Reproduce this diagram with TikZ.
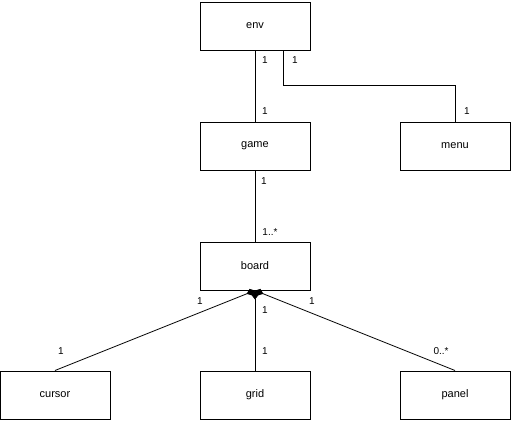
\documentclass[tikz,border=0pt]{standalone}
\usepackage{fontspec}
\setmainfont{Liberation Sans}
\usetikzlibrary{arrows.meta}
\definecolor{cline}{HTML}{000000}

\begin{document}
\begin{tikzpicture}[x=1pt,y=-1pt,
    cls/.style={draw,line width=1pt,minimum width=110pt,minimum height=48pt,
      inner sep=0pt,font=\fontsize{11}{13}\selectfont},
    mult/.style={inner sep=0pt,font=\fontsize{10}{12}\selectfont},
    comp/.style={line width=0.8pt,{Diamond[length=9pt,width=7pt]}-}]
  \useasboundingbox (0,0) rectangle (511,421);
  % classes
  \node[cls] (env) at (255,26) {env};
  \node[cls] (game) at (255,146) {game};
  \node[cls] (menu) at (455,146) {menu};
  \node[cls] (board) at (255,266) {board};
  \node[cls] (cursor) at (55,395) {cursor};
  \node[cls] (grid) at (255,395) {grid};
  \node[cls] (panel) at (455,395) {panel};
  % associations
  \draw[line width=0.8pt] (env) -- (game);
  \draw[line width=0.8pt] ([xshift=28pt]env.south) -- ++(0,35) -| (menu.north);
  \draw[line width=0.8pt] (game) -- (board);
  % composition
  \draw[comp] (board.south) -- (cursor.north);
  \draw[comp] (board.south) -- (grid.north);
  \draw[comp] (board.south) -- (panel.north);
  % multiplicities
  \node[mult] (m1) at (265,60) {1};
  \node[mult] (m2) at (295,60) {1};
  \node[mult] (m3) at (265,111) {1};
  \node[mult] (m4) at (467,111) {1};
  \node[mult] (m5) at (264,181) {1};
  \node[mult] (m6) at (270,232) {1..*};
  \node[mult] (m7) at (200,301) {1};
  \node[mult] (m8) at (265,310) {1};
  \node[mult] (m9) at (312,301) {1};
  \node[mult] (m10) at (61,351) {1};
  \node[mult] (m11) at (265,351) {1};
  \node[mult] (m12) at (441,351) {0..*};
\end{tikzpicture}
\end{document}
